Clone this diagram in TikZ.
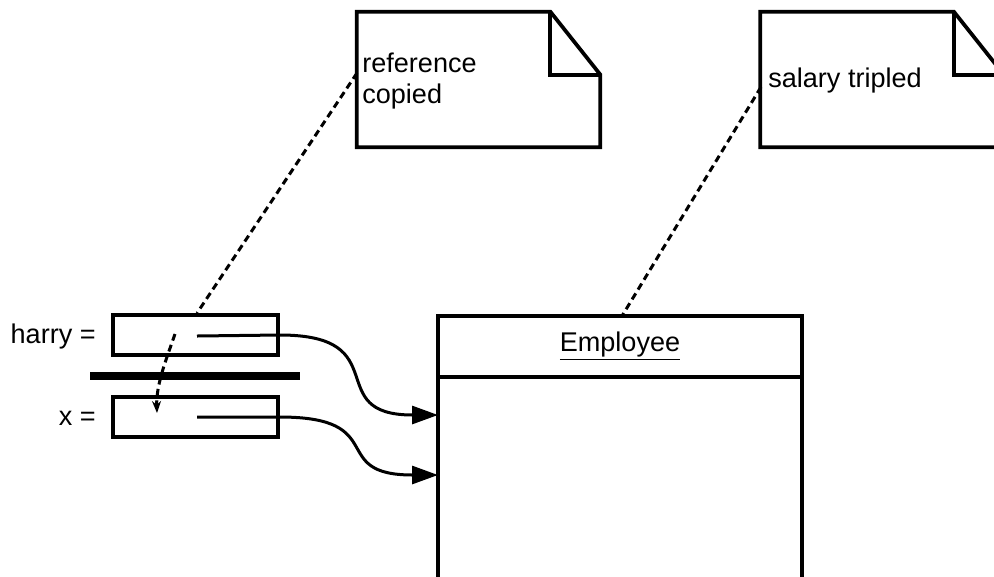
\documentclass[tikz,border=0pt]{standalone}
\usepackage{fontspec}
\setmainfont{Liberation Sans}
\usetikzlibrary{arrows.meta,positioning,calc}
\tikzset{
  varbox/.style={draw, line width=0.075cm, minimum width=3.3cm, minimum height=0.8cm,
    inner sep=0pt},
  varlabel/.style={anchor=east, inner sep=0pt},
  classbox/.style={draw, line width=0.075cm, minimum width=7.28cm, inner sep=0pt,
    outer sep=0pt},
  notebox/.style={minimum width=4.86cm, minimum height=2.7cm, inner sep=0pt},
  notetext/.style={anchor=west, align=left, inner sep=0pt},
  noteline/.style={line width=0.075cm, line join=miter},
  ref/.style={line width=0.06cm, -{Triangle[length=0.52cm, width=0.36cm]}},
  anchorline/.style={line width=0.06cm, dash pattern=on 0.14cm off 0.09cm},
  bar/.style={fill=black, minimum width=4.2cm, minimum height=0.16cm, inner sep=0pt},
}

\begin{document}
\begin{tikzpicture}[x=0.02cm, y=-0.02cm,
    font=\fontsize{15.4}{18}\selectfont]
    \useasboundingbox (0,0) rectangle (994,576);
    \clip (0,0) rectangle (994,576);
    % --- variables ---
    \node[varbox]   (harry)  at (195.5,335) {};
    \node[varbox]   (xvar)   at (195.5,417) {};
    \node[varlabel] (harrylbl) at (96,336) {harry =};
    \node[varlabel] (xlbl)     at (96,418) {x =};
    \node[bar]      (sep)    at (195,376) {};
    \coordinate (harryref) at (197,336);
    \coordinate (xref)     at (197,417);
    % --- Employee object ---
    \node[classbox, minimum height=1.22cm] (emphead) at (620,346.5)
      {\underline{Employee}};
    \node[classbox, minimum height=5cm, anchor=north] (empbody) at (emphead.south) {};
    \coordinate (in1) at (438,415);
    \coordinate (in2) at (438,475);
    % --- notes ---
    \node[notebox] (note1) at (478.5,79.5) {};
    \node[notebox] (note2) at (882,79.5) {};
    \foreach \n in {note1,note2} {
      \draw[noteline] (\n.north west) -- ([xshift=-1cm]\n.north east)
        -- ([yshift=-1.26cm]\n.north east) -- (\n.south east)
        -- (\n.south west) -- cycle;
      \draw[noteline] ([xshift=-1cm]\n.north east)
        |- ([yshift=-1.26cm]\n.north east);
    }
    \node[notetext] (note1txt) at (362,81) {reference\\copied};
    \node[notetext] (note2txt) at (768,80) {salary tripled};
    \coordinate (n1end) at (357,73);
    \coordinate (n2end) at (761,87);
    % --- references ---
    \draw[ref] (harryref) -- (harry.east) to[out=0, in=180, looseness=1.7] (in1);
    \draw[ref] (xref) -- (xvar.east) to[out=0, in=180, looseness=1.7] (in2);
    % --- note anchors ---
    \draw[anchorline] (n1end) -- (harry.north -| 197,0);
    \draw[anchorline] (n2end) -- (emphead.north -| 622,0);
    \coordinate (copyfrom) at (175,334);
    \coordinate (copyto)   at (157,413);
    \draw[anchorline, -{Stealth[length=0.24cm, width=0.18cm]}]
      (copyfrom) .. controls (166,360) and (156,385) .. (copyto);
  \end{tikzpicture}
\end{document}
